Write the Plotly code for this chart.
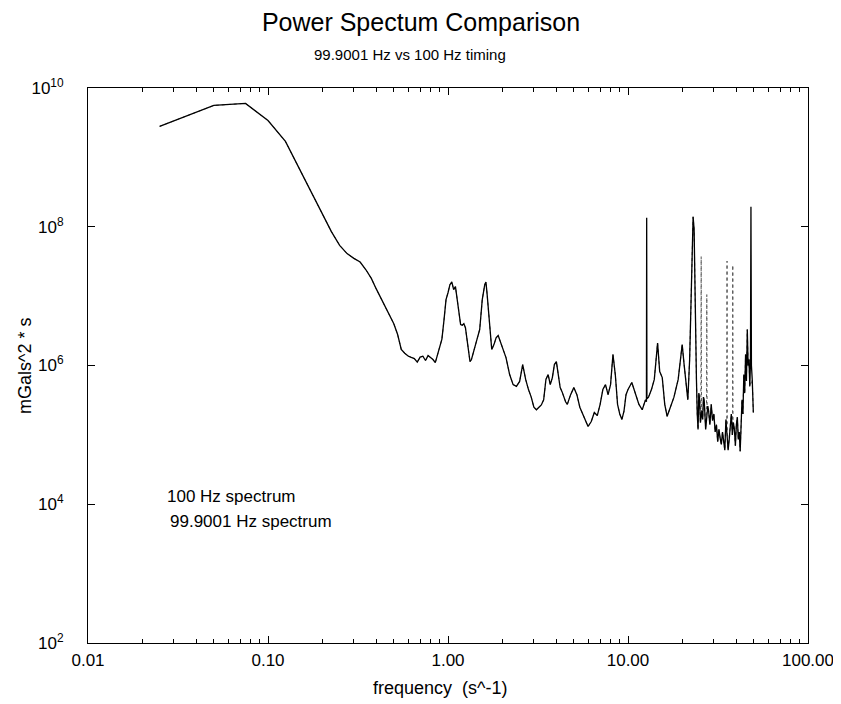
import plotly.graph_objects as go

# ---- data ----
base_freq = [0.025, 0.05, 0.075, 0.1, 0.125, 0.15, 0.175, 0.2, 0.225, 0.25, 0.275, 0.3, 0.325, 0.35,
             0.375, 0.4, 0.425, 0.45, 0.475, 0.5, 0.525, 0.55, 0.575, 0.6, 0.625, 0.65, 0.675, 0.7,
             0.725, 0.75, 0.775, 0.8, 0.825, 0.85, 0.875, 0.9, 0.925, 0.95, 0.975, 1.0, 1.025, 1.05,
             1.075, 1.1, 1.125, 1.15, 1.175, 1.2, 1.225, 1.25, 1.275, 1.3, 1.325, 1.35, 1.375, 1.4,
             1.45, 1.5, 1.55, 1.6, 1.625, 1.65, 1.7, 1.75, 1.8, 1.85, 1.9, 1.95, 2.0, 2.1, 2.2, 2.3,
             2.4, 2.5, 2.6, 2.7, 2.8, 2.9, 3.0, 3.1, 3.2, 3.3, 3.4, 3.5, 3.6, 3.7, 3.8, 3.9, 4.0, 4.1,
             4.2, 4.3, 4.4, 4.5, 4.6, 4.8, 5.0, 5.2, 5.4, 5.6, 5.8, 6.0, 6.25, 6.5, 6.75, 7.0, 7.25,
             7.5, 7.75, 8.0, 8.25, 8.5, 8.75, 9.0, 9.25, 9.5, 9.75, 10.0, 10.5, 11.0, 11.5, 12.0, 12.5,
             13.0, 13.5, 14.0, 14.6, 15.0, 15.5, 16.0, 16.5, 17.0, 18.0, 19.0, 20.0, 20.5, 21.0, 21.5,
             22.0, 22.5, 23.0, 23.3, 23.6, 24.0, 24.25, 24.5, 24.75, 25.0, 25.25, 25.75, 26.0, 26.25,
             26.5, 26.75, 27.0, 27.75, 28.0, 28.5, 29.0, 29.5, 30.0, 30.5, 31.0, 31.5, 32.0, 32.5,
             33.0, 33.5, 34.0, 34.5, 35.0, 36.0, 36.5, 37.0, 37.5, 38.0, 38.5, 39.0, 39.5, 40.0, 40.5,
             41.0, 41.5, 42.0, 42.5, 43.0, 43.5, 44.0, 44.5, 45.0, 45.5, 46.0, 46.5, 47.0, 47.5,
             49.0, 49.7]
base_power = [2.8e9, 5.6e9, 6.0e9, 3.4e9, 1.7e9, 6.8e8, 3.1e8, 1.6e8, 8.5e7, 5.4e7, 4.1e7, 3.5e7, 3.1e7, 2.4e7,
              1.8e7, 1.26e7, 9.2e6, 6.9e6, 5.2e6, 4.0e6, 2.8e6, 1.7e6, 1.5e6, 1.37e6, 1.31e6, 1.26e6, 1.12e6, 1.32e6,
              1.36e6, 1.18e6, 1.39e6, 1.30e6, 1.22e6, 1.10e6, 1.44e6, 1.88e6, 2.4e6, 4.5e6, 8.9e6, 1.12e7, 1.46e7, 1.6e7,
              1.24e7, 1.37e7, 8.9e6, 4.9e6, 3.9e6, 3.8e6, 4.0e6, 3.5e6, 2.4e6, 1.44e6, 1.14e6, 1.22e6, 1.49e6, 1.7e6,
              2.4e6, 3.3e6, 8.9e6, 1.46e7, 1.6e7, 1.05e7, 3.9e6, 1.7e6, 2.0e6, 2.5e6, 2.7e6, 2.2e6, 1.8e6, 1.3e6, 7.4e5, 5.3e5,
              5.0e5, 5.9e5, 1.03e6, 6.3e5, 4.5e5, 3.5e5, 2.5e5, 2.3e5, 2.5e5, 2.7e5, 3.2e5, 6.3e5, 7.4e5, 5.3e5, 6.7e5, 1.03e6, 1.14e6, 7.4e5,
              4.8e5, 4.2e5, 3.5e5, 3.0e5, 2.75e5, 3.8e5, 4.8e5, 3.8e5, 2.5e5, 2.0e5, 1.67e5, 1.32e5, 1.56e5, 2.1e5, 1.9e5, 2.75e5, 4.5e5,
              5.3e5, 3.8e5, 5.3e5, 1.44e6, 7.4e5, 2.75e5, 2.0e5, 1.67e5, 2.2e5, 3.8e5, 4.5e5, 5.7e5, 3.8e5, 2.75e5, 2.3e5, 3.2e5,
              3.5e5, 4.5e5, 6.3e5, 2.1e6, 8.2e5, 6.7e5, 2.75e5, 1.85e5, 2.3e5, 3.5e5, 6.3e5, 2.0e6, 1.03e6, 5.3e5, 3.2e5,
              1.22e6, 8.9e6, 1.39e8, 9.1e7, 6.4e6, 6.3e5, 2.0e5, 1.2e5, 4.0e5, 3.2e5, 1.5e5, 2.2e5, 1.67e5, 3.5e5,
              3.2e5, 1.5e5, 1.2e5, 2.6e5, 2.3e5, 1.4e5, 2.75e5, 1.6e5, 2.0e5, 1.1e5, 1.4e5, 8.0e4, 1.2e5, 9.0e4,
              7.3e4, 1.1e5, 8.6e4, 6.0e4, 1.67e5, 6.0e4, 8.6e4, 1.4e5, 2.0e5, 1.0e5, 1.5e5, 1.2e5, 7.0e4, 1.4e5, 1.8e5,
              8.6e4, 1.1e5, 5.8e4, 1.5e5, 3.2e5, 2.0e5, 7.4e5, 4.0e5, 1.44e6, 6.0e5, 3.3e6, 1.0e6, 1.22e6, 5.0e5,
              6.3e5, 2.1e5]

# spikes of the 100 Hz spectrum (solid)
spike100_freq = [12.66, 12.7, 12.74, 47.9, 48.2, 48.5]
spike100_power = [3.0e5, 1.35e8, 3.3e5, 1.1e6, 1.95e8, 1.0e6]

# spikes of the 99.9001 Hz spectrum (dotted)
spike999_freq = [25.4, 25.5, 25.6, 27.3, 27.4, 27.5, 35.4, 35.5, 35.6, 38.1, 38.2, 38.3]
spike999_power = [2.5e5, 3.7e7, 2.0e5, 2.6e5, 1.05e7, 2.4e5, 1.5e5, 3.2e7, 1.0e5, 1.6e5, 2.8e7, 1.3e5]

x_tickvals = [0.01, 0.1, 1, 10, 100]
x_ticktext = ["0.01", "0.10", "1.00", "10.00", "100.00"]
y_tickvals = [1e2, 1e4, 1e6, 1e8, 1e10]
y_ticktext = ["10<sup>2</sup>", "10<sup>4</sup>", "10<sup>6</sup>", "10<sup>8</sup>", "10<sup>10</sup>"]
x_minor = [m * 10 ** d for d in (-2, -1, 0, 1) for m in range(2, 10)]


def merged(f1, p1, f2, p2):
    pts = sorted(zip(list(f1) + list(f2), list(p1) + list(p2)))
    return [a for a, _ in pts], [b for _, b in pts]


f100, p100 = merged(base_freq, base_power, spike100_freq, spike100_power)
f999, p999 = merged(base_freq, base_power, spike999_freq, spike999_power)

FONT = "Liberation Sans, Arial, sans-serif"

fig = go.Figure()
fig.add_trace(go.Scatter(x=f999, y=p999, mode="lines", name="99.9001 Hz spectrum",
                         line=dict(color="#555555", width=1, dash="dot"), showlegend=False))
fig.add_trace(go.Scatter(x=f100, y=p100, mode="lines", name="100 Hz spectrum",
                         line=dict(color="black", width=1.3), showlegend=False))

axis_common = dict(showline=True, linecolor="black", linewidth=1, mirror="ticks",
                   ticks="inside", tickcolor="black", showgrid=False, zeroline=False,
                   automargin=False,
                   tickfont=dict(family=FONT, size=17, color="black"))

fig.update_xaxes(type="log", range=[-2, 2], tickvals=x_tickvals, ticktext=x_ticktext, ticklen=7,
                 ticklabelstandoff=2,
                 minor=dict(tickvals=x_minor, ticks="inside", ticklen=4, tickcolor="black", showgrid=False),
                 **axis_common)
fig.update_yaxes(type="log", range=[2, 10], tickvals=y_tickvals, ticktext=y_ticktext, ticklen=7,
                 ticklabelstandoff=20,
                 **axis_common)

fig.update_layout(
    width=841, height=704,
    margin=dict(l=80, r=41, t=80, b=69, autoexpand=False),
    paper_bgcolor="white", plot_bgcolor="white",
    title=dict(text="Power Spectum Comparison", x=413 / 841, xanchor="center", y=1 - 14 / 704, yanchor="middle",
               automargin=False,
               font=dict(family=FONT, size=25, color="black")),
    annotations=[
        dict(text="99.9001 Hz vs 100 Hz timing", xref="paper", yref="paper", x=(410 - 88) / 720, y=1 + 33 / 555,
             xanchor="center", yanchor="middle", showarrow=False,
             font=dict(family=FONT, size=15, color="black")),
        dict(text="frequency  (s^-1)", xref="paper", yref="paper", x=(440 - 88) / 720, y=-(688 - 643) / 555,
             xanchor="center", yanchor="middle", showarrow=False,
             font=dict(family=FONT, size=18, color="black")),
        dict(text="mGals^2 * s", xref="paper", yref="paper", x=-(88 - 25) / 720, y=1 - (366 - 88) / 555,
             xanchor="center", yanchor="middle", showarrow=False, textangle=-90,
             font=dict(family=FONT, size=18, color="black")),
        dict(text="100 Hz spectrum", xref="paper", yref="paper", x=(165 - 88) / 720, y=1 - (496 - 88) / 555,
             xanchor="left", yanchor="middle", showarrow=False,
             font=dict(family=FONT, size=17, color="black")),
        dict(text="99.9001 Hz spectrum", xref="paper", yref="paper", x=(168 - 88) / 720, y=1 - (521 - 88) / 555,
             xanchor="left", yanchor="middle", showarrow=False,
             font=dict(family=FONT, size=17, color="black")),
    ],
)

fig.write_html("out.html")
